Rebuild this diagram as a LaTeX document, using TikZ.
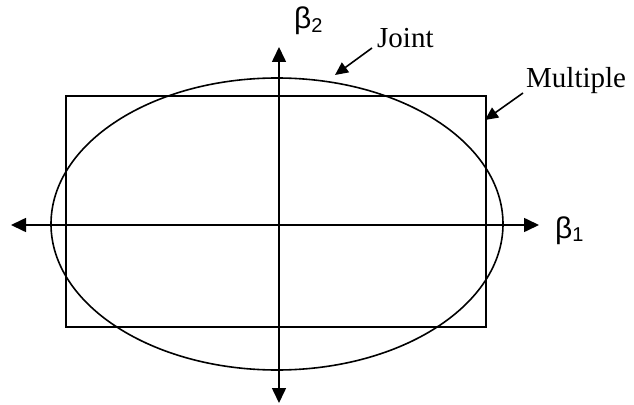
\documentclass[tikz,border=0pt]{standalone}
\usepackage{fontspec}
\setmainfont{Liberation Serif}
\newfontfamily\arialf{Liberation Sans}
\usetikzlibrary{arrows.meta}
\tikzset{
  axis/.style={line width=1.6pt,-{Triangle[length=15pt,width=14pt]}},
  pointer/.style={line width=1.6pt,-{Triangle[length=13pt,width=12pt]}},
  shape line/.style={line width=1.6pt},
  serif label/.style={font=\fontsize{29}{32}\selectfont, inner sep=0pt},
  beta label/.style={font=\arialf\fontsize{30}{32}\selectfont, inner sep=0pt}
}
\begin{document}
\begin{tikzpicture}[x=1pt,y=-1pt]
\useasboundingbox (0,0) rectangle (634,404);
% shapes
\draw[shape line] (66,96) rectangle (486,327);
\draw[shape line] (277,224) ellipse [x radius=226, y radius=146];
% axes
\coordinate (o) at (279,225);
\coordinate (xl) at (11,225);
\coordinate (xr) at (539,225);
\coordinate (yt) at (279,47);
\coordinate (yb) at (279,403);
\draw[axis] (o) -- (xl);
\draw[axis] (o) -- (xr);
\draw[axis] (o) -- (yt);
\draw[axis] (o) -- (yb);
% labels
\node[beta label, anchor=base west] (b1) at (555,238) {β\raisebox{-0.2ex}{\fontsize{20}{22}\selectfont 1}};
\node[beta label, anchor=base west] (b2) at (294,29) {β\raisebox{-0.2ex}{\fontsize{20}{22}\selectfont 2}};
\node[serif label, anchor=base west] (joint) at (377,48) {Joint};
\node[serif label, anchor=base west] (mult) at (526,87) {Multiple};
% pointers
\coordinate (jt) at (335,75);
\coordinate (mt) at (485,120);
\draw[pointer] (joint.base west) ++(-5,0) coordinate (js) -- (jt);
\draw[pointer] (mult.base west) ++(-3,6) coordinate (ms) -- (mt);
\end{tikzpicture}
\end{document}
